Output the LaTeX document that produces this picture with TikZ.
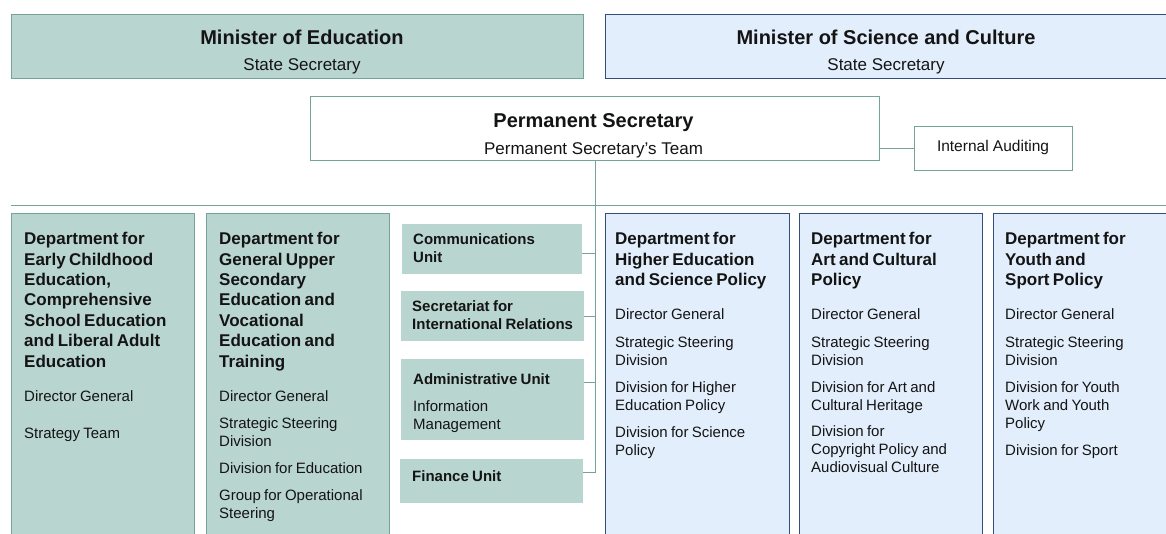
\documentclass[tikz,border=0pt]{standalone}
\usepackage{fontspec}
\setmainfont{Liberation Sans}
\usetikzlibrary{calc}
\definecolor{tealfill}{RGB}{185,213,207}
\definecolor{tealline}{RGB}{118,163,153}
\definecolor{bluefill}{RGB}{227,238,252}
\definecolor{blueline}{RGB}{50,78,124}
\definecolor{ink}{RGB}{20,20,20}
\newcommand{\mytitle}{\fontsize{20}{24}\selectfont\bfseries}
\newcommand{\mysub}{\fontsize{17}{20}\selectfont}
\newcommand{\myhead}{\fontsize{17}{20.4}\selectfont\bfseries}
\newcommand{\myitem}{\fontsize{15}{18}\selectfont}
\newcommand{\myuhead}{\fontsize{15}{18}\selectfont\bfseries}
\newcommand{\hstrut}{\rule{0pt}{13pt}}
\newcommand{\ustrut}{\rule{0pt}{12pt}}
\begin{document}
\begin{tikzpicture}[x=1pt,y=-1pt,
  box/.style={rectangle, anchor=north west, inner sep=0pt, line width=1.2pt},
  tealbox/.style={box, draw=tealline, fill=tealfill},
  bluebox/.style={box, draw=blueline, fill=bluefill},
  whitebox/.style={box, draw=tealline, fill=white},
  unitbox/.style={box, draw=none, fill=tealfill},
  conn/.style={draw=tealline, line width=1.2pt},
  lbl/.style={inner sep=0pt, anchor=base, text=ink},
  blocktxt/.style={anchor=north west, inner sep=0pt, text width=#1, align=left, text=ink}]
\useasboundingbox (0,0) rectangle (1166,533);

% top boxes
\node[tealbox, minimum width=572pt, minimum height=64pt] (medu) at (11,14) {};
\node[bluebox, minimum width=580pt, minimum height=64pt] (msci) at (605,14) {};
\node[lbl, font=\mytitle] (medut) at (302,44.3) {Minister of Education};
\node[lbl, font=\mysub] (medus) at (302,70) {State Secretary};
\node[lbl, font=\mytitle] (mscit) at (886,44.3) {Minister of Science and Culture};
\node[lbl, font=\mysub] (mscis) at (886,70) {State Secretary};

% permanent secretary
\node[whitebox, minimum width=569pt, minimum height=64pt] (ps) at (310,96) {};
\node[lbl, font=\mytitle] (pst) at (593.5,127.3) {Permanent Secretary};
\node[lbl, font=\mysub] (pss) at (593.5,154) {Permanent Secretary's Team};
\node[whitebox, minimum width=158pt, minimum height=44pt] (ia) at (914,126) {};
\node[lbl, font=\fontsize{15.5}{18}\selectfont] (iat) at (993,151.5) {Internal Auditing};
\draw[conn] (ia.west -| ps.east) -- (ia.west);

% departments
\node[tealbox, minimum width=183pt, minimum height=340pt] (d1) at (11,213) {};
\node[tealbox, minimum width=183pt, minimum height=340pt] (d2) at (206,213) {};
\node[bluebox, minimum width=184pt, minimum height=340pt] (d3) at (605,213) {};
\node[bluebox, minimum width=183pt, minimum height=340pt] (d4) at (799,213) {};
\node[bluebox, minimum width=200pt, minimum height=340pt] (d5) at (993,213) {};

% divider
\coordinate (divR) at (1180,205.5);
\draw[conn] ([yshift=7.5pt]d1.north west) -- (divR);

\node[blocktxt=175pt] (d1t) at (24,231.5) {%
{\myhead\hstrut Department for\\ Early Childhood\\ Education,\\ Comprehensive\\ School Education\\ and Liberal Adult\\ Education\par}
\vskip16.5pt
{\myitem Director General\par}
\vskip19pt
{\myitem Strategy Team\par}};

\node[blocktxt=175pt] (d2t) at (219,231.5) {%
{\myhead\hstrut Department for\\ General Upper\\ Secondary\\ Education and\\ Vocational\\ Education and\\ Training\par}
\vskip16.5pt
{\myitem Director General\par}
\vskip9pt
{\myitem Strategic Steering\\ Division\par}
\vskip9pt
{\myitem Division for Education\par}
\vskip9pt
{\myitem Group for Operational\\ Steering\par}};

\node[blocktxt=175pt] (d3t) at (615,231.5) {%
{\myhead\hstrut Department for\\ Higher Education\\ and Science Policy\par}
\vskip15.5pt
{\myitem Director General\par}
\vskip10pt
{\myitem Strategic Steering\\ Division\par}
\vskip9pt
{\myitem Division for Higher\\ Education Policy\par}
\vskip9pt
{\myitem Division for Science\\ Policy\par}};

\node[blocktxt=172pt] (d4t) at (811,231.5) {%
{\myhead\hstrut Department for\\ Art and Cultural\\ Policy\par}
\vskip15.5pt
{\myitem Director General\par}
\vskip10pt
{\myitem Strategic Steering\\ Division\par}
\vskip9pt
{\myitem Division for Art and\\ Cultural Heritage\par}
\vskip8pt
{\myitem Division for\\ Copyright Policy and\\ Audiovisual Culture\par}};

\node[blocktxt=160pt] (d5t) at (1005,231.5) {%
{\myhead\hstrut Department for\\ Youth and\\ Sport Policy\par}
\vskip15.5pt
{\myitem Director General\par}
\vskip10pt
{\myitem Strategic Steering\\ Division\par}
\vskip9pt
{\myitem Division for Youth\\ Work and Youth\\ Policy\par}
\vskip9pt
{\myitem Division for Sport\par}};

% staff units
\node[unitbox, minimum width=180pt, minimum height=50pt] (u1) at (401,223) {};
\node[unitbox, minimum width=183pt, minimum height=50pt] (u2) at (400,290) {};
\node[unitbox, minimum width=183pt, minimum height=81pt] (u3) at (400,358) {};
\node[unitbox, minimum width=183pt, minimum height=44pt] (u4) at (399,458) {};

\node[blocktxt=175pt] (u1t) at (413,232.5) {{\myuhead\ustrut Communications\\ Unit\par}};
\node[blocktxt=175pt] (u2t) at (412,299.5) {{\myuhead\ustrut Secretariat for\\ International Relations\par}};
\node[blocktxt=175pt] (u3t) at (413,372.5) {{\myuhead\ustrut Administrative Unit\par}\vskip9pt{\myitem Information\\ Management\par}};
\node[blocktxt=175pt] (u4t) at (412,469.5) {{\myuhead\ustrut Finance Unit\par}};

% connectors
\draw[conn] (ps.south) |- ([yshift=8pt]u4.east);
\draw[conn] ([yshift=-5pt]u1.east) -| (ps.south);
\draw[conn] ([yshift=-1pt]u2.east) -| (ps.south);
\draw[conn] ([yshift=16.5pt]u3.east) -| (ps.south);
\end{tikzpicture}
\end{document}
